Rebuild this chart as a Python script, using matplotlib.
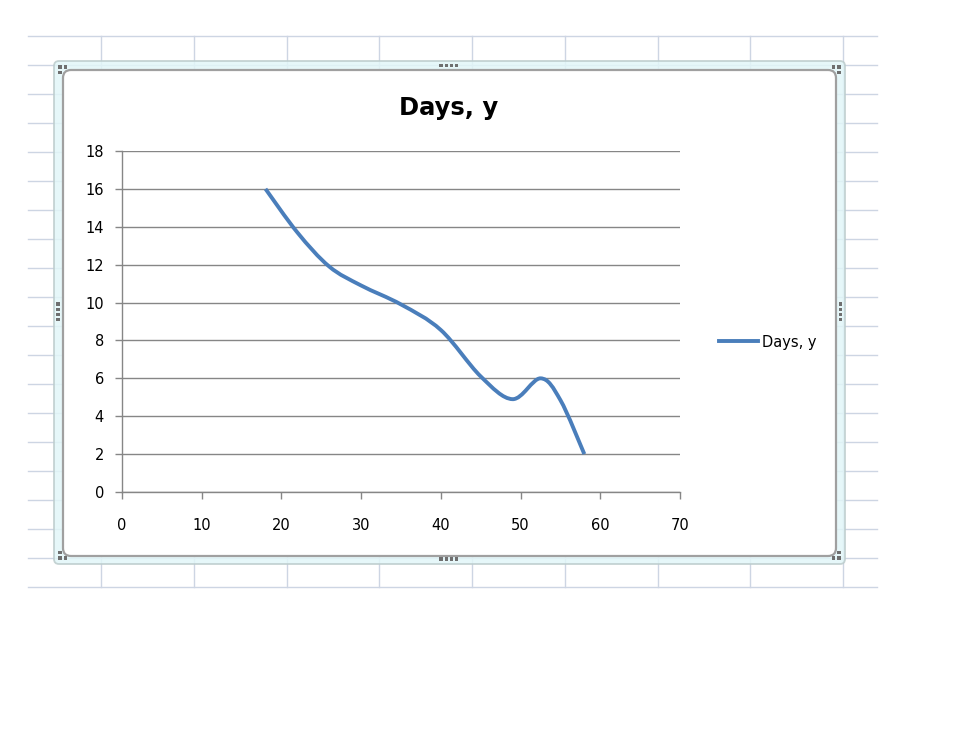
import matplotlib
matplotlib.use("Agg")
import matplotlib.pyplot as plt
from matplotlib.lines import Line2D
from matplotlib.patches import FancyBboxPatch, PathPatch, Rectangle
from matplotlib.path import Path

# Données
jours_x = [18, 22, 26, 30, 35, 40, 45, 49, 52.5, 55, 58]
jours_y = [16, 13.7, 11.9, 10.9, 9.9, 8.55, 6.1, 4.9, 6.0, 4.85, 2.0]
serie_nom = "Days, y"
x_ticks = [0, 10, 20, 30, 40, 50, 60, 70]
y_ticks = [0, 2, 4, 6, 8, 10, 12, 14, 16, 18]

W, H = 957, 738
BLEU = "#4a7ebb"
GRIS = "#868686"
GRILLE_XL = "#cdd5e3"


def courbe_lissee(xs, ys):
    """Chemin Bézier type Excel (lissage) passant par les points."""
    pts = list(zip(xs, ys))
    pts = [pts[0]] + pts + [pts[-1]]
    verts = [pts[1]]
    codes = [Path.MOVETO]
    for i in range(1, len(pts) - 2):
        p0, p1, p2, p3 = pts[i - 1], pts[i], pts[i + 1], pts[i + 2]
        c1 = (p1[0] + (p2[0] - p0[0]) / 6, p1[1] + (p2[1] - p0[1]) / 6)
        c2 = (p2[0] - (p3[0] - p1[0]) / 6, p2[1] - (p3[1] - p1[1]) / 6)
        verts += [c1, c2, p2]
        codes += [Path.CURVE4] * 3
    return Path(verts, codes)


fig = plt.figure(figsize=(W / 100, H / 100), dpi=100)
fig.patch.set_facecolor("white")

# --- fond : grille de tableur et cadre du graphique (coordonnées pixels) ---
bg = fig.add_axes([0, 0, 1, 1])
bg.set_xlim(0, W)
bg.set_ylim(H, 0)
bg.axis("off")

for k in range(20):
    y = 36 + 29 * k
    bg.plot([28, 877], [y, y], color=GRILLE_XL, lw=1.0, zorder=1)
for k in range(9):
    x = 101 + 92.75 * k
    bg.plot([x, x], [36, 587], color=GRILLE_XL, lw=1.0, zorder=1)

bande = FancyBboxPatch((54, 61), 845 - 54, 564 - 61,
                       boxstyle="round,pad=0,rounding_size=5",
                       facecolor="#e2f6f8", edgecolor="#bccccc", lw=1.3,
                       alpha=0.85, zorder=2)
bg.add_patch(bande)
cadre = FancyBboxPatch((63, 70), 836 - 63, 556 - 70,
                       boxstyle="round,pad=0,rounding_size=8",
                       facecolor="white", edgecolor="#a0a0a0", lw=1.6, zorder=3)
bg.add_patch(cadre)

# poignées de redimensionnement
poignees = [(60, 67), (65.5, 67), (60, 72.5),
            (833.5, 67), (839, 67), (839, 72.5),
            (60, 552.5), (60, 558), (65.5, 558),
            (839, 552.5), (833.5, 558), (839, 558)]
for k in range(4):
    poignees.append((441 + 5.3 * k, 65.5))
    poignees.append((441 + 5.3 * k, 559))
    poignees.append((58, 304 + 5.3 * k))
    poignees.append((840.5, 304 + 5.3 * k))
for px, py in poignees:
    bg.add_patch(Rectangle((px - 1.6, py - 1.6), 3.2, 3.2,
                           facecolor="#6f6f6f", edgecolor="none", zorder=4))

bg.text(448.5, 108, serie_nom, ha="center", va="center",
        fontsize=17.5, fontweight="bold", color="black", zorder=5)

# --- zone de tracé ---
x0, x1, y0, y1 = 122, 680, 151, 492
ax = fig.add_axes([x0 / W, 1 - y1 / H, (x1 - x0) / W, (y1 - y0) / H])
ax.set_facecolor("none")
ax.set_xlim(0, 70)
ax.set_ylim(0, 18)
ax.set_xticks(x_ticks)
ax.set_yticks(y_ticks)
ax.grid(axis="y", color=GRIS, lw=1.0)
ax.set_axisbelow(True)
for s in ["top", "right"]:
    ax.spines[s].set_visible(False)
for s in ["left", "bottom"]:
    ax.spines[s].set_color(GRIS)
    ax.spines[s].set_linewidth(1.0)
ax.tick_params(axis="y", direction="out", length=5, width=1.0, color=GRIS,
               labelsize=10.5, pad=8)
ax.tick_params(axis="x", direction="out", length=5, width=1.0, color=GRIS,
               labelsize=10.5, pad=14)

chemin = courbe_lissee(jours_x, jours_y)
ax.add_patch(PathPatch(chemin, facecolor="none", edgecolor=BLEU, lw=2.8,
                       capstyle="butt", joinstyle="round", zorder=3))

poignee = Line2D([], [], color=BLEU, lw=2.8)
ax.legend(handles=[poignee], labels=[serie_nom], loc="center left",
          bbox_to_anchor=(719 / W, 1 - 342 / H), bbox_transform=fig.transFigure,
          frameon=False, fontsize=10.5, handlelength=2.7, handletextpad=0.25,
          borderpad=0, borderaxespad=0)

fig.savefig("out.png", dpi=100)
